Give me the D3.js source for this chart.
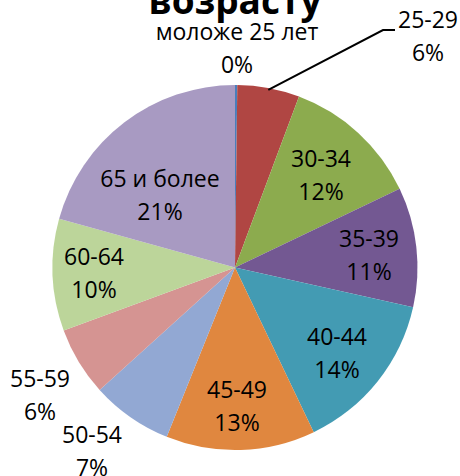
<!DOCTYPE html>
<html>
<head>
<meta charset="utf-8">
<script src="https://cdn.jsdelivr.net/npm/d3@7/dist/d3.min.js"></script>
<style>
  html, body { margin: 0; padding: 0; background: #fff; }
  svg { display: block; }
  text { font-family: "Open Sans", "Noto Sans", sans-serif; fill: #000; }
</style>
</head>
<body>
<script>
// ---- data ----
const titleText = "возрасту";
const categories = ["моложе 25 лет", "25-29", "30-34", "35-39", "40-44", "45-49", "50-54", "55-59", "60-64", "65 и более"];
const shares = [0.2, 5.5, 12.2, 10.6, 14.4, 13.2, 7.2, 6.1, 9.9, 20.7];
const percentLabels = ["0%", "6%", "12%", "11%", "14%", "13%", "7%", "6%", "10%", "21%"];
const colors = ["#4A7EBB", "#B04643", "#8CAB4E", "#735892", "#439BB3", "#E0873F", "#92A8D3", "#D59492", "#BCD59A", "#A89AC2"];

// ---- layout ----
const W = 460, H = 476;
const cx = 235, cy = 267.5, R = 182.5;
const lineGap = 32.5;

const svg = d3.select("body").append("svg").attr("width", W).attr("height", H);

// title (cut off at top)
svg.append("text")
  .attr("x", 235).attr("y", 13.5)
  .attr("text-anchor", "middle")
  .style("font-size", "37px").style("font-weight", "bold")
  .text(titleText);

const pie = d3.pie().value(d => d.v).sort(null);
const arcs = pie(categories.map((c, i) => ({ c, v: shares[i], p: percentLabels[i], col: colors[i] })));
const arc = d3.arc().innerRadius(0).outerRadius(R);

const g = svg.append("g").attr("transform", `translate(${cx},${cy})`);
g.selectAll("path").data(arcs).enter().append("path")
  .attr("d", arc)
  .attr("fill", d => d.data.col);

// label anchor points: [center x, first-line baseline]
const labelAnchors = [
  [237, 40],
  [428, 28],
  [321, 167],
  [369, 247],
  [337, 345],
  [237, 398],
  [92, 443],
  [40, 387],
  [94, 265],
  [160, 187]
];

const labelG = svg.append("g");
arcs.forEach((d, i) => {
  const [x, y] = labelAnchors[i];
  const t = labelG.append("text")
    .attr("text-anchor", "middle")
    .style("font-size", "23px");
  t.append("tspan").attr("x", x).attr("y", y).text(d.data.c);
  t.append("tspan").attr("x", x).attr("y", y + lineGap).text(d.data.p);
});

// leader line for 25-29
const d1 = arcs[1];
const aMid = (d1.startAngle + d1.endAngle) / 2;
const p0 = [cx + Math.sin(aMid) * R * 0.99, cy - Math.cos(aMid) * R * 0.99];
svg.append("polyline")
  .attr("points", [p0, [383, 30], [395, 30]].map(p => p.join(",")).join(" "))
  .attr("fill", "none").attr("stroke", "#000").attr("stroke-width", 2);
</script>
</body>
</html>
